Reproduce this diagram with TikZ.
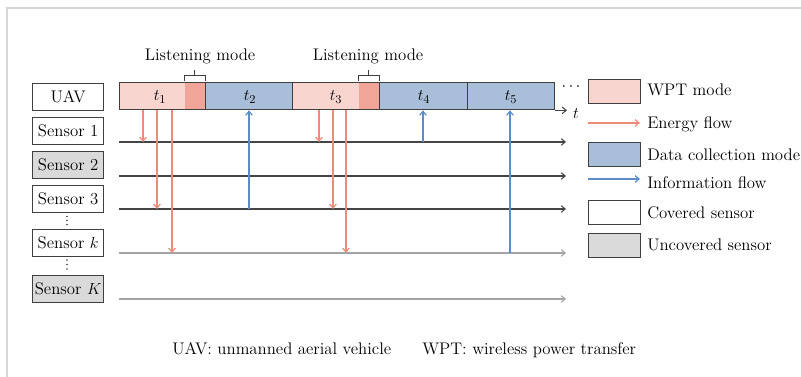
\documentclass[tikz,border=0pt]{standalone}
\usetikzlibrary{arrows.meta}
\definecolor{wpt}{HTML}{F9D5D0}
\definecolor{listen}{HTML}{F1A498}
\definecolor{dcol}{HTML}{A9BED9}
\definecolor{edge}{HTML}{3F3F3F}
\definecolor{energy}{HTML}{EF8A78}
\definecolor{info}{HTML}{5D8DC8}
\definecolor{uncov}{HTML}{DADADA}
\definecolor{framec}{HTML}{D6D6D6}
\definecolor{darkline}{HTML}{454545}
\definecolor{lightline}{HTML}{A3A3A3}
\begin{document}
\begin{tikzpicture}[x=0.75pt,y=-0.75pt,
  font=\fontsize{12.6}{14}\selectfont,
  tip/.style={-{Straight Barb[length=3pt,width=5pt]}},
  sbox/.style={draw=edge, line width=1pt, minimum width=71*0.75pt, minimum height=27*0.75pt, inner sep=0pt, anchor=north west},
  seg/.style={draw=edge, line width=1pt, minimum height=27*0.75pt, inner sep=0pt, anchor=north west},
  legbox/.style={draw=edge, line width=1pt, minimum width=52*0.75pt, minimum height=24*0.75pt, inner sep=0pt, anchor=north west},
  legtext/.style={anchor=west, inner sep=0pt},
  earrow/.style={tip, draw=energy, line width=0.9pt},
  iarrow/.style={tip, draw=info, line width=0.9pt},
  dline/.style={tip, draw=darkline, line width=0.8pt},
  lline/.style={tip, draw=lightline, line width=0.8pt},
  brk/.style={draw=edge, line width=0.6pt},
  vdot/.style={fill=edge},
  lstn/.style={path picture={\fill[listen] ([xshift=-21*0.75pt]path picture bounding box.north east) rectangle (path picture bounding box.south east);}}
]
\useasboundingbox (0,0) rectangle (801,377);
% frame
\draw[framec, line width=1.2pt] (7,377) -- (7,8) -- (801,8);

% left labels
\node[sbox] (uav) at (32,83) {UAV};
\node[sbox] (sen1) at (32,117) {Sensor 1};
\node[sbox, fill=uncov] (sen2) at (32,151) {Sensor 2};
\node[sbox] (sen3) at (32,185) {Sensor 3};
\node[sbox] (senk) at (32,229) {Sensor $k$};
\node[sbox, fill=uncov] (senK) at (32,275) {Sensor $K$};
% vertical ellipses
\foreach \yy in {216.5,220.5,224.5,260,264.5,269}
  \fill[vdot] (67,\yy) circle (0.9);

% timeline segments
\node[seg, fill=wpt, lstn, minimum width=86*0.75pt] (p1) at (119,82) {};
\node[seg, fill=dcol, minimum width=87*0.75pt] (p2) at (205,82) {};
\node[seg, fill=wpt, lstn, minimum width=87*0.75pt] (p3) at (292,82) {};
\node[seg, fill=dcol, minimum width=88*0.75pt] (p4) at (379,82) {};
\node[seg, fill=dcol, minimum width=87*0.75pt] (p5) at (467,82) {};
\node (t1) at (160,97) {$t_1$};
\node (t2) at (250,97) {$t_2$};
\node (t3) at (336,97) {$t_3$};
\node (t4) at (424,97) {$t_4$};
\node (t5) at (511,97) {$t_5$};
\node (dots) at (571,87) {$\cdots$};

% time axis
\draw[dline] (p5.south east) -- (567,0 |- p5.south east);
\node[inner sep=0pt] (tt) at (576,114) {$t$};

% listening brackets
\draw[brk] (184,81) -- (184,75) -- (205,75) -- (205,81);
\draw[brk] (194.5,75) -- (194.5,70);
\node (lm1) at (200,56) {Listening mode};
\draw[brk] (358,81) -- (358,75) -- (379,75) -- (379,81);
\draw[brk] (368.5,75) -- (368.5,70);
\node (lm2) at (368,56) {Listening mode};

% sensor lines
\coordinate (s1a) at (119,142); \coordinate (s1b) at (566,142);
\coordinate (s2a) at (119,176); \coordinate (s2b) at (566,176);
\coordinate (s3a) at (119,209); \coordinate (s3b) at (566,209);
\coordinate (ska) at (119,253); \coordinate (skb) at (566,253);
\coordinate (sKa) at (119,299); \coordinate (sKb) at (566,299);
\draw[dline] (s1a) -- (s1b);
\draw[dline] (s2a) -- (s2b);
\draw[dline] (s3a) -- (s3b);
\draw[lline] (ska) -- (skb);
\draw[lline] (sKa) -- (sKb);

% energy flows
\draw[earrow] (p1.south -| 143,0) -- (143,0 |- s1a);
\draw[earrow] (p1.south -| 157,0) -- (157,0 |- s3a);
\draw[earrow] (p1.south -| 172,0) -- (172,0 |- ska);
\draw[earrow] (p3.south -| 319,0) -- (319,0 |- s1a);
\draw[earrow] (p3.south -| 333,0) -- (333,0 |- s3a);
\draw[earrow] (p3.south -| 346,0) -- (346,0 |- ska);

% information flows
\draw[iarrow] (249,0 |- s3a) -- (p2.south -| 249,0);
\draw[iarrow] (423,0 |- s1a) -- (p4.south -| 423,0);
\draw[iarrow] (510,0 |- ska) -- (p5.south -| 510,0);

% legend
\node[legbox, fill=wpt] (lg1) at (588,79) {};
\node[legtext] (lt1) at (647,90) {WPT mode};
\coordinate (le1) at (588,123); \coordinate (le2) at (640,123);
\draw[earrow] (le1) -- (le2);
\node[legtext] (lt2) at (647,124) {Energy flow};
\node[legbox, fill=dcol] (lg3) at (588,142) {};
\node[legtext] (lt3) at (647,155) {Data collection mode};
\coordinate (li1) at (588,179); \coordinate (li2) at (640,179);
\draw[iarrow] (li1) -- (li2);
\node[legtext] (lt4) at (647,183) {Information flow};
\node[legbox] (lg5) at (588,200) {};
\node[legtext] (lt5) at (647,213) {Covered sensor};
\node[legbox, fill=uncov] (lg6) at (588,233) {};
\node[legtext] (lt6) at (647,245) {Uncovered sensor};

% caption
\node[anchor=base west, inner sep=0pt] (cap1) at (172,355) {UAV: unmanned aerial vehicle};
\node[anchor=base west, inner sep=0pt] (cap2) at (422,355) {WPT: wireless power transfer};
\end{tikzpicture}
\end{document}
